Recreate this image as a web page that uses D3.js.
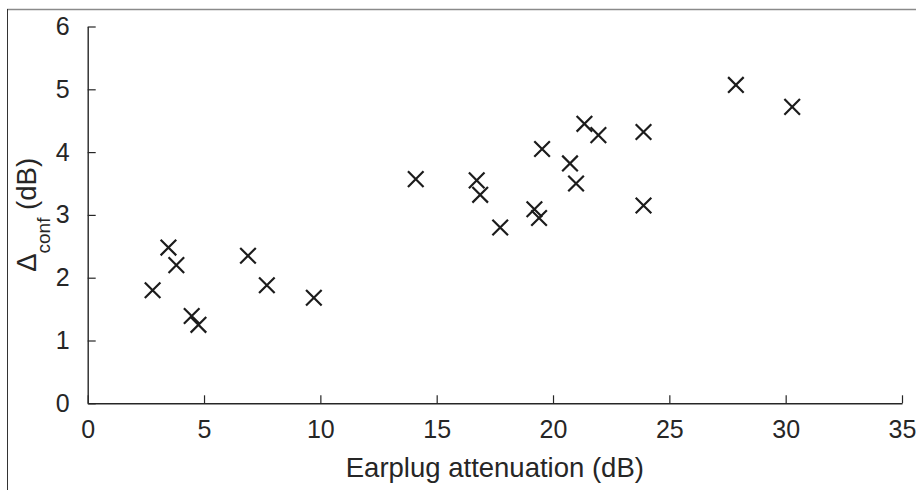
<!DOCTYPE html>
<html><head><meta charset="utf-8">
<script src="https://cdn.jsdelivr.net/npm/d3@7"></script>
<style>html,body{margin:0;padding:0;background:#fff;}svg{display:block;}</style>
</head><body>
<svg id="c" width="916" height="490"></svg>
<script>
const attenuation = [2.79, 3.47, 3.81, 4.47, 4.76, 6.89, 7.70, 9.72,
  14.10, 16.72, 16.87, 17.73, 19.20, 19.40, 19.53, 20.73, 20.99, 21.35, 21.95, 23.89, 23.89,
  27.86, 30.28];
const deltaConf = [1.80, 2.48, 2.20, 1.39, 1.25, 2.35, 1.88, 1.68,
  3.57, 3.55, 3.32, 2.80, 3.09, 2.95, 4.05, 3.82, 3.50, 4.45, 4.27, 4.32, 3.15,
  5.07, 4.72];
const xTicks = [0, 5, 10, 15, 20, 25, 30, 35];
const yTicks = [0, 1, 2, 3, 4, 5, 6];
const xLabel = "Earplug attenuation (dB)";

const svg = d3.select("#c");
const font = "'Liberation Sans', Arial, Helvetica, sans-serif";
const axCol = "#262626";

// outer frame lines
svg.append("line").attr("x1", 7).attr("x2", 916).attr("y1", 9.5).attr("y2", 9.5)
  .attr("stroke", "#8a8a8a").attr("stroke-width", 1.6);
svg.append("line").attr("x1", 7.5).attr("x2", 7.5).attr("y1", 9).attr("y2", 490)
  .attr("stroke", "#333").attr("stroke-width", 1);

const x = d3.scaleLinear().domain([0, 35]).range([87.7, 902]);
const y = d3.scaleLinear().domain([0, 6]).range([403.3, 26.5]);

const xAxis = svg.append("g").attr("transform", `translate(0,${y(0)})`)
  .call(d3.axisBottom(x).tickValues(xTicks).tickSizeInner(-8).tickSizeOuter(0).tickPadding(17).tickFormat(d3.format("d")));
const yAxis = svg.append("g").attr("transform", `translate(${x(0)},0)`)
  .call(d3.axisLeft(y).tickValues(yTicks).tickSizeInner(-8).tickSizeOuter(0).tickPadding(18).tickFormat(d3.format("d")));

[xAxis, yAxis].forEach(g => {
  g.select(".domain").attr("stroke", axCol).attr("stroke-width", 1.4);
  g.selectAll(".tick line").attr("stroke", axCol).attr("stroke-width", 1.2);
  g.selectAll(".tick text").attr("fill", axCol).attr("font-family", font).attr("font-size", 25);
});
xAxis.selectAll(".tick text").attr("dy", "0.71em");

// x label
svg.append("text").attr("x", (x(0) + x(35)) / 2).attr("y", 477)
  .attr("text-anchor", "middle").attr("font-family", font).attr("font-size", 27.5)
  .attr("fill", axCol).text(xLabel);

// y label
const yl = svg.append("text")
  .attr("transform", `translate(36,${(y(0) + y(6)) / 2}) rotate(-90)`)
  .attr("text-anchor", "middle").attr("font-family", font).attr("font-size", 27.5)
  .attr("fill", axCol);
yl.append("tspan").text("Δ");
yl.append("tspan").attr("font-size", 19).attr("dy", 14).text("conf");
yl.append("tspan").attr("dy", -14).text(" (dB)");

// markers
const h = 7.8;
const pts = attenuation.map((a, i) => [a, deltaConf[i]]);
const m = svg.append("g").selectAll("g").data(pts).join("g")
  .attr("transform", d => `translate(${x(d[0])},${y(d[1])})`);
m.append("path").attr("d", `M${-h},${-h}L${h},${h}M${-h},${h}L${h},${-h}`)
  .attr("stroke", "#1c1c1c").attr("stroke-width", 2.2).attr("fill", "none");
</script>
</body></html>
